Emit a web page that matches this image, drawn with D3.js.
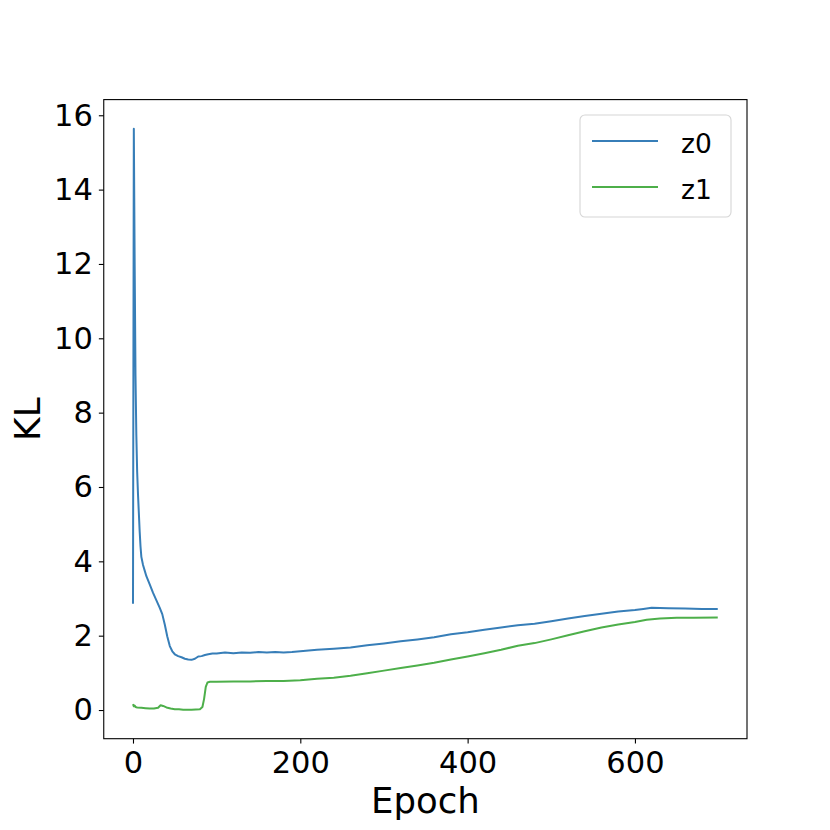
<!DOCTYPE html>
<html>
<head>
<meta charset="utf-8">
<script src="https://d3js.org/d3.v7.min.js"></script>
<style>
body { margin: 0; background: white; }
text { font-family: "DejaVu Sans", sans-serif; fill: black; }
</style>
</head>
<body>
<script>
// data
z0Epochs = [0, 1, 2, 3, 4, 5, 6, 7, 8, 9, 10, 12, 14, 16, 20, 24, 28, 32, 35, 38, 41, 44, 47, 50, 54, 58, 62, 66, 70, 74, 78, 82, 86, 90, 95, 100, 110, 120, 130, 140, 150, 160, 170, 180, 190, 200, 220, 240, 260, 280, 300, 320, 340, 360, 380, 400, 420, 440, 460, 480, 500, 520, 540, 560, 580, 600, 610, 620, 640, 660, 680, 699];
z0Values = [2.86, 15.64, 12.0, 9.0, 7.4, 6.4, 5.8, 5.3, 4.8, 4.4, 4.12, 3.9, 3.75, 3.6, 3.38, 3.15, 2.95, 2.75, 2.58, 2.3, 1.98, 1.72, 1.58, 1.5, 1.45, 1.42, 1.38, 1.36, 1.35, 1.38, 1.44, 1.45, 1.48, 1.5, 1.52, 1.52, 1.55, 1.53, 1.55, 1.54, 1.56, 1.55, 1.56, 1.55, 1.56, 1.58, 1.62, 1.65, 1.68, 1.74, 1.79, 1.85, 1.9, 1.96, 2.04, 2.09, 2.16, 2.22, 2.28, 2.32, 2.39, 2.46, 2.53, 2.59, 2.65, 2.69, 2.72, 2.75, 2.74, 2.73, 2.72, 2.72];
z1Epochs = [0, 1, 2, 3, 5, 10, 15, 20, 25, 30, 33, 36, 40, 45, 50, 55, 60, 70, 80, 83, 85, 87, 89, 92, 100, 120, 140, 160, 180, 200, 220, 240, 260, 280, 300, 320, 340, 360, 380, 400, 420, 440, 460, 480, 500, 520, 540, 560, 580, 600, 614, 630, 650, 670, 699];
z1Values = [0.16, 0.1, 0.12, 0.08, 0.07, 0.06, 0.05, 0.04, 0.04, 0.06, 0.13, 0.11, 0.07, 0.04, 0.02, 0.02, 0.01, 0.01, 0.02, 0.08, 0.3, 0.62, 0.74, 0.76, 0.76, 0.77, 0.77, 0.78, 0.78, 0.8, 0.84, 0.87, 0.92, 0.99, 1.06, 1.13, 1.2, 1.27, 1.36, 1.44, 1.53, 1.62, 1.73, 1.8, 1.9, 2.01, 2.12, 2.22, 2.3, 2.37, 2.43, 2.46, 2.48, 2.48, 2.49];
seriesNames = ["z0", "z1"];
seriesColors = ["#377eb8", "#4daf4a"];
xTicks = [0, 200, 400, 600];
yTicks = [0, 2, 4, 6, 8, 10, 12, 14, 16];

var width = 830, height = 830;
var plotLeft = 103.75, plotRight = 747, plotTop = 99.6, plotBottom = 738.7;

var svg = d3.select("body")
    .append("svg")
    .attr("width", width)
    .attr("height", height);

// matplotlib style 5% margins
var xMin = d3.min(z0Epochs), xMax = d3.max(z0Epochs);
var yMin = Math.min(d3.min(z0Values), d3.min(z1Values));
var yMax = Math.max(d3.max(z0Values), d3.max(z1Values));
var xPad = (xMax - xMin) * 0.05, yPad = (yMax - yMin) * 0.05;

var x = d3.scaleLinear().domain([xMin - xPad, xMax + xPad]).range([plotLeft, plotRight]);
var y = d3.scaleLinear().domain([yMin - yPad, yMax + yPad]).range([plotBottom, plotTop]);

var line = d3.line()
    .x(function(d) { return x(d[0]); })
    .y(function(d) { return y(d[1]); });

var series = [
    d3.zip(z0Epochs, z0Values),
    d3.zip(z1Epochs, z1Values)
];

svg.selectAll("path.series")
    .data(series)
    .enter()
    .append("path")
    .attr("class", "series")
    .attr("d", line)
    .style("fill", "none")
    .style("stroke", function(d, i) { return seriesColors[i]; })
    .style("stroke-width", 2)
    .style("stroke-linejoin", "round");

// axes
var xAxis = svg.append("g")
    .attr("transform", "translate(0," + plotBottom + ")")
    .call(d3.axisBottom(x).tickValues(xTicks).tickSize(4.9).tickPadding(7.5));
var yAxis = svg.append("g")
    .attr("transform", "translate(" + plotLeft + ",0)")
    .call(d3.axisLeft(y).tickValues(yTicks).tickSize(4.9).tickPadding(6));

[xAxis, yAxis].forEach(function(a) {
    a.select(".domain").remove();
    a.selectAll("line").style("stroke", "black").style("stroke-width", 1.1);
    a.selectAll("text").style("font-size", "30.5px").style("font-family", "DejaVu Sans");
});

svg.append("rect")
    .attr("x", plotLeft)
    .attr("y", plotTop)
    .attr("width", plotRight - plotLeft)
    .attr("height", plotBottom - plotTop)
    .style("fill", "none")
    .style("stroke", "black")
    .style("stroke-width", 1.1);

// axis labels
svg.append("text")
    .attr("x", (plotLeft + plotRight) / 2)
    .attr("y", 813)
    .attr("text-anchor", "middle")
    .style("font-size", "35.5px")
    .text("Epoch");

svg.append("text")
    .attr("transform", "translate(40," + ((plotTop + plotBottom) / 2) + ") rotate(-90)")
    .attr("text-anchor", "middle")
    .style("font-size", "36px")
    .text("KL");

// legend
var legend = svg.append("g");
legend.append("rect")
    .attr("x", 580)
    .attr("y", 115)
    .attr("width", 151)
    .attr("height", 102)
    .attr("rx", 5)
    .style("fill", "white")
    .style("fill-opacity", 0.8)
    .style("stroke", "#d6d6d6")
    .style("stroke-width", 1.1);

var items = legend.selectAll("g.item")
    .data(seriesNames)
    .enter()
    .append("g")
    .attr("class", "item")
    .attr("transform", function(d, i) { return "translate(0," + (141 + i * 46) + ")"; });

items.append("line")
    .attr("x1", 592)
    .attr("x2", 658)
    .style("stroke", function(d, i) { return seriesColors[i]; })
    .style("stroke-width", 2);

items.append("text")
    .attr("x", 681)
    .attr("y", 12)
    .style("font-size", "26.5px")
    .text(function(d) { return d; });
</script>
</body>
</html>
